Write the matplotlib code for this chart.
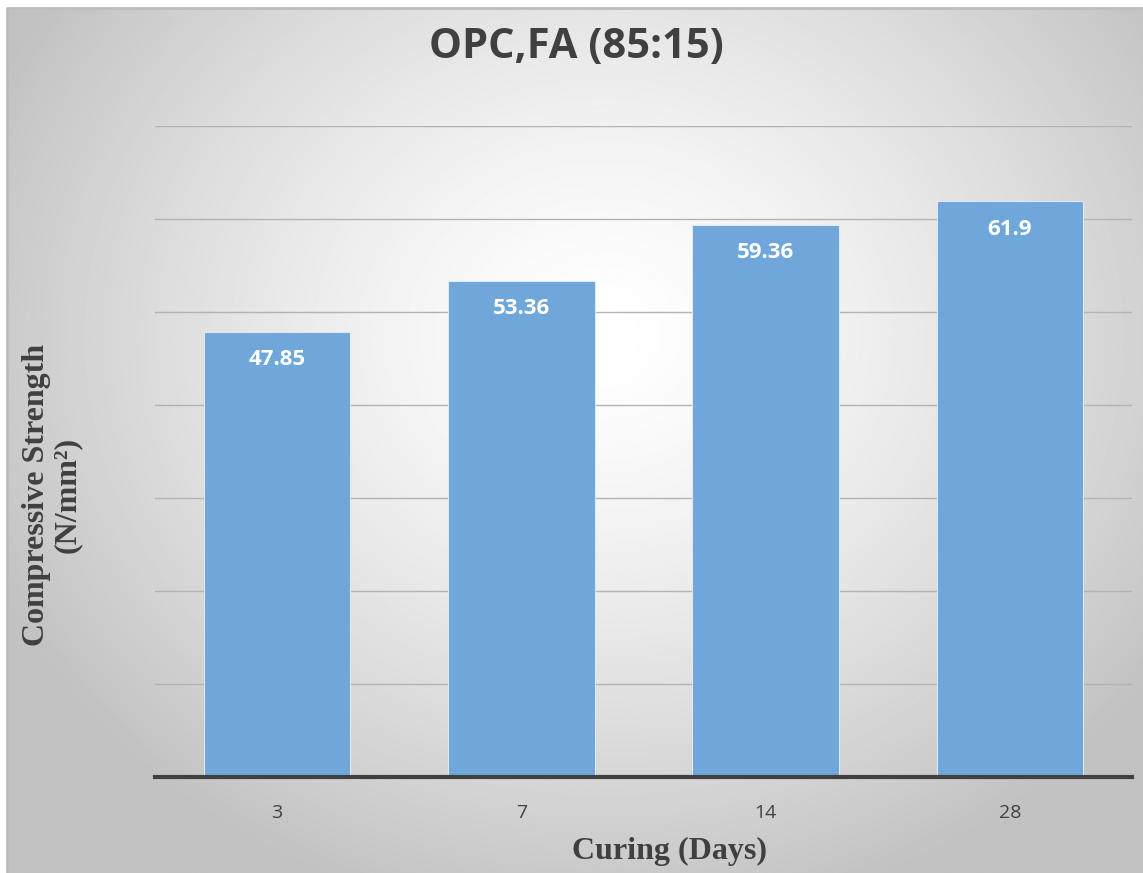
import numpy as np
import matplotlib
matplotlib.use('Agg')
import matplotlib.pyplot as plt
from matplotlib.patches import Rectangle

# curing age vs compressive strength, OPC + fly ash 85:15
days = ['3', '7', '14', '28']
strength = [47.85, 53.36, 59.36, 61.9]
y_ticks = [0, 10, 20, 30, 40, 50, 60, 70]

W, H = 1143, 873
fig = plt.figure(figsize=(W / 100, H / 100), dpi=100)
fig.patch.set_facecolor('white')

# radial grey background behind the chart
bg = fig.add_axes([7 / W, 0, 1 - 7 / W, 1 - 8 / H])
yy, xx = np.mgrid[0:H, 0:W]
r = np.sqrt(((xx - 600) / 900.0) ** 2 + ((yy - 330) / 800.0) ** 2)
shade = np.clip(1.0 - 0.36 * r ** 1.4, 0.76, 1.0)
bg.imshow(shade, cmap='gray', vmin=0, vmax=1, aspect='auto', extent=[0, 1, 0, 1])
bg.set_xlim(0, 1)
bg.set_ylim(0, 1)
bg.axis('off')
bg.plot([0, 0, 1.01], [0, 1, 1], transform=bg.transAxes, color='#bdbdbd',
        linewidth=2, clip_on=False)

ax = fig.add_axes([155 / W, (H - 777) / H, (1132 - 155) / W, (777 - 126) / H])
ax.patch.set_alpha(0)
x = np.arange(len(days))
bars = ax.bar(x, strength, width=0.6, color='#6fa7da', edgecolor='#dce9f5',
              linewidth=0.8, zorder=3)
ax.set_xlim(-0.5, len(days) - 0.5)
ax.set_ylim(0, 70)
ax.set_yticks(y_ticks)
ax.yaxis.grid(True, color='#b3b3b3', linewidth=1.0, zorder=0)
ax.tick_params(axis='y', left=False, labelleft=False)
ax.tick_params(axis='x', bottom=False, labelsize=14, labelcolor='#404040', pad=16)
ax.set_xticks(x)
ax.set_xticklabels(days, fontfamily='Open Sans')
for s in ['top', 'right', 'left']:
    ax.spines[s].set_visible(False)
ax.spines['bottom'].set_color('#404040')
ax.spines['bottom'].set_linewidth(3)
ax.spines['bottom'].set_zorder(4)

for xi, v in zip(x, strength):
    ax.annotate(f'{v:g}', (xi, v), xytext=(0, -20), textcoords='offset points',
                ha='center', va='center', color='white', fontsize=16,
                fontweight='bold', fontfamily='Open Sans', zorder=5)

fig.text(576 / W, 1 - 47 / H, 'OPC,FA (85:15)', ha='center', va='center',
         fontsize=30, fontweight='bold', fontfamily='Open Sans', color='#404040')
fig.text(670 / W, 1 - 851 / H, 'Curing (Days)', ha='center', va='center',
         fontsize=23, fontweight='bold', fontfamily='Liberation Serif', color='#404040')
fig.text(52 / W, 1 - 495 / H, 'Compressive Strength\n(N/mm²)', ha='center',
         va='center', rotation=90, fontsize=23, fontweight='bold',
         fontfamily='Liberation Serif', color='#404040', linespacing=1.05)

fig.savefig('out.png', dpi=100)
